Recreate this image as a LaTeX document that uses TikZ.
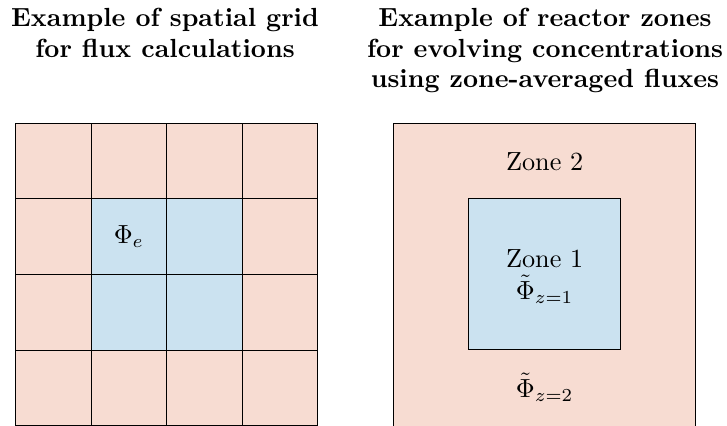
\documentclass[tikz,border=0pt]{standalone}
\usepackage{fontspec}
\definecolor{zonepink}{RGB}{247,220,210}
\definecolor{zoneblue}{RGB}{203,226,240}
\begin{document}
\begin{tikzpicture}[x=0.3817pt,y=-0.3817pt,
  cellpink/.style={fill=zonepink,draw=black,line width=0.4pt},
  cellblue/.style={fill=zoneblue,draw=black,line width=0.4pt},
  titletext/.style={align=center,inner sep=0pt,anchor=north,font=\bfseries\fontsize{10}{11.6}\selectfont},
  lbl/.style={inner sep=0pt,align=center}]
\useasboundingbox (0,0) rectangle (727,425);
% left grid
\def\cw{75.575}
\foreach \i in {0,...,3}{
  \foreach \j in {0,...,3}{
    \pgfmathsetmacro{\xa}{15.5+\i*\cw}
    \pgfmathsetmacro{\ya}{123.3+\j*\cw}
    \pgfmathsetmacro{\xb}{\xa+\cw}
    \pgfmathsetmacro{\yb}{\ya+\cw}
    \ifnum\i>0 \ifnum\i<3 \ifnum\j>0 \ifnum\j<3
      \def\sty{cellblue}\else\def\sty{cellpink}\fi\else\def\sty{cellpink}\fi\else\def\sty{cellpink}\fi\else\def\sty{cellpink}\fi
    \draw[\sty] (\xa,\ya) rectangle (\xb,\yb);
  }
}
\node[lbl] (phie) at (128.9,236.5) {$\Phi_e$};
% right zones
\draw[cellpink] (393.3,123.3) rectangle (695.6,426.3);
\draw[cellblue] (468.9,198.9) rectangle (620.4,349.8);
\node[lbl] (z2) at (544.7,161.5) {Zone 2};
\node[lbl] (z1) at (544.7,276.5) {Zone 1\\$\tilde\Phi_{z=1}$};
\node[lbl] (p2) at (544.7,387.5) {$\tilde\Phi_{z=2}$};
% titles
\node[titletext] (t1) at (165,8) {Example of spatial grid\\for flux calculations};
\node[titletext] (t2) at (545,8) {Example of reactor zones\\for evolving concentrations\\using zone-averaged fluxes};
\end{tikzpicture}
\end{document}
